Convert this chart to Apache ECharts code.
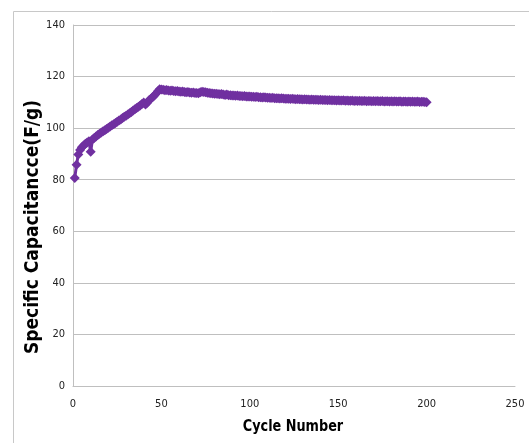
<!DOCTYPE html>
<html>
<head>
<meta charset="utf-8">
<script src="https://cdn.jsdelivr.net/npm/echarts@6/dist/echarts.min.js"></script>
<style>
html,body{margin:0;padding:0;background:#fff;}
#chart{width:529px;height:443px;}
</style>
</head>
<body>
<div id="chart"></div>
<script>
const xTicks = [0, 50, 100, 150, 200, 250];
const yTicks = [0, 20, 40, 60, 80, 100, 120, 140];
const firstCycle = 1;
const capacitance = [
  80.7, 85.8, 89.8, 91.5, 92.6, 93.3, 93.9, 94.4, 94.9, 90.8,
  95.6, 96.2, 96.8, 97.3, 97.8, 98.3, 98.8, 99.2, 99.7, 100.2,
  100.6, 101.1, 101.5, 102.0, 102.5, 103.0, 103.4, 103.9, 104.4, 104.8,
  105.3, 105.8, 106.3, 106.8, 107.3, 107.8, 108.3, 108.8, 109.4, 109.9,
  109.2, 109.8, 110.8, 111.4, 112.0, 112.7, 113.4, 114.3, 115.1, 115.0,
  114.9, 114.7, 114.8, 114.6, 114.5, 114.6, 114.4, 114.3, 114.4, 114.2,
  114.1, 114.2, 114.0, 113.9, 114.0, 113.8, 113.7, 113.8, 113.6, 113.6,
  113.5, 113.9, 114.1, 114.0, 113.9, 113.7, 113.6, 113.5, 113.4, 113.3,
  113.3, 113.2, 113.1, 113.2, 113.0, 112.9, 113.0, 112.8, 112.8, 112.7,
  112.7, 112.6, 112.7, 112.5, 112.5, 112.4, 112.5, 112.3, 112.3, 112.3,
  112.2, 112.2, 112.1, 112.2, 112.0, 112.0, 111.9, 112.0, 111.9, 111.8,
  111.8, 111.7, 111.8, 111.6, 111.6, 111.6, 111.5, 111.6, 111.5, 111.4,
  111.4, 111.4, 111.3, 111.4, 111.3, 111.2, 111.3, 111.2, 111.2, 111.1,
  111.2, 111.1, 111.1, 111.0, 111.1, 111.0, 111.0, 111.0, 110.9, 111.0,
  110.9, 110.9, 110.9, 110.8, 110.9, 110.8, 110.8, 110.8, 110.7, 110.8,
  110.7, 110.7, 110.8, 110.6, 110.7, 110.6, 110.6, 110.7, 110.5, 110.6,
  110.5, 110.6, 110.5, 110.5, 110.6, 110.4, 110.5, 110.5, 110.4, 110.5,
  110.4, 110.5, 110.4, 110.4, 110.5, 110.3, 110.4, 110.4, 110.3, 110.4,
  110.3, 110.4, 110.3, 110.3, 110.4, 110.2, 110.3, 110.3, 110.2, 110.3,
  110.2, 110.3, 110.2, 110.2, 110.3, 110.1, 110.2, 110.2, 110.1, 110.0
];
const xTitle = 'Cycle Number';
const yTitle = 'Specific Capacitancce(F/g)';

const points = capacitance.map((v, i) => [firstCycle + i, v]);
const fontFam = '"DejaVu Sans Condensed", "Liberation Sans Narrow", Arial, sans-serif';
const chart = echarts.init(document.getElementById('chart'), null, {renderer: 'canvas'});
chart.setOption({
  animation: false,
  backgroundColor: '#fff',
  grid: {left: 73, right: 14, top: 25, bottom: 57, containLabel: false},
  xAxis: {
    type: 'value', min: xTicks[0], max: xTicks[xTicks.length - 1], interval: 50,
    axisLine: {show: true, lineStyle: {color: '#bfbfbf', width: 1}},
    axisTick: {show: false},
    splitLine: {show: false},
    axisLabel: {color: '#222', fontFamily: fontFam, fontSize: 11, margin: 13}
  },
  yAxis: {
    type: 'value', min: yTicks[0], max: yTicks[yTicks.length - 1], interval: 20,
    axisLine: {show: true, lineStyle: {color: '#bfbfbf', width: 1}},
    axisTick: {show: false},
    splitLine: {show: true, lineStyle: {color: '#bfbfbf', width: 1}},
    axisLabel: {color: '#222', fontFamily: fontFam, fontSize: 11, margin: 8}
  },
  graphic: [
    {type: 'rect', shape: {x: 13.5, y: 11.5, width: 700, height: 700}, style: {fill: null, stroke: '#c8c8c8', lineWidth: 1}, silent: true, z: -10},
    {type: 'text', x: 293, y: 427, scaleX: 0.95, style: {text: xTitle, font: 'bold 15px ' + fontFam, fill: '#000', textAlign: 'center', textVerticalAlign: 'middle'}},
    {type: 'text', x: 33.5, y: 227, rotation: Math.PI / 2, style: {text: yTitle, font: 'bold 19px ' + fontFam, fill: '#000', textAlign: 'center', textVerticalAlign: 'middle'}}
  ],
  series: [{
    type: 'line',
    data: points,
    symbol: 'diamond',
    symbolSize: 10,
    showAllSymbol: true,
    lineStyle: {color: '#7030a0', width: 3},
    itemStyle: {color: '#7030a0', borderWidth: 0}
  }]
});
</script>
</body>
</html>
